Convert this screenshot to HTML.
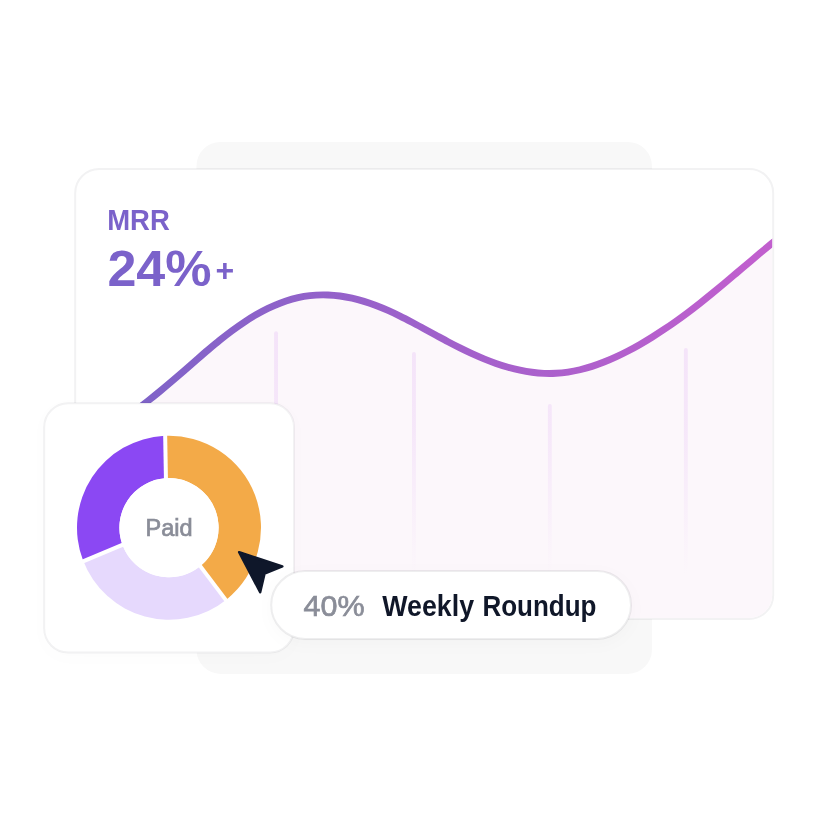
<!DOCTYPE html>
<html lang="en">
<head>
<meta charset="utf-8">
<title>MRR growth</title>
<style>
html,body{margin:0;padding:0;background:#fff;}
body{width:816px;height:816px;overflow:hidden;position:relative;font-family:"Liberation Sans",sans-serif;}
svg{position:absolute;left:0;top:0;display:block;}
text{font-family:"Liberation Sans",sans-serif;opacity:0.999;}
</style>
</head>
<body>
<svg width="816" height="816" viewBox="0 0 816 816">
  <defs>
    <linearGradient id="lg" gradientUnits="userSpaceOnUse" x1="140" y1="0" x2="775" y2="0">
      <stop offset="0" stop-color="#7f63c8"/>
      <stop offset="0.5" stop-color="#a261cb"/>
      <stop offset="1" stop-color="#c25fce"/>
    </linearGradient>
    <linearGradient id="fg" gradientUnits="userSpaceOnUse" x1="0" y1="295" x2="0" y2="620">
      <stop offset="0" stop-color="#fcf7fb"/>
      <stop offset="1" stop-color="#fcf7fb"/>
    </linearGradient>
    <linearGradient id="gl" gradientUnits="userSpaceOnUse" x1="0" y1="330" x2="0" y2="575">
      <stop offset="0" stop-color="#f4e3f9"/>
      <stop offset="0.4" stop-color="#f4e3f9" stop-opacity="0.8"/>
      <stop offset="1" stop-color="#f4e3f9" stop-opacity="0"/>
    </linearGradient>
    <clipPath id="cardclip"><rect x="76.2" y="169.9" width="696" height="448" rx="23" ry="23"/></clipPath>
    <filter id="sh" x="-10%" y="-30%" width="120%" height="170%">
      <feDropShadow dx="0" dy="4" stdDeviation="8" flood-color="#101828" flood-opacity="0.025"/>
    </filter>
    <filter id="sh2" x="-10%" y="-10%" width="120%" height="125%">
      <feDropShadow dx="0" dy="4" stdDeviation="8" flood-color="#101828" flood-opacity="0.012"/>
    </filter>
  </defs>
  <!-- back plate -->
  <rect x="196.5" y="141.9" width="455.4" height="532" rx="24" ry="24" fill="#f8f8f8"/>
  <!-- main card -->
  <rect x="75.2" y="168.9" width="698" height="450" rx="24" ry="24" fill="#ffffff" stroke="#1a1a22" stroke-opacity="0.055" stroke-width="2"/>
  <g clip-path="url(#cardclip)">
    <path d="M76.00 444.46 C78.00 443.62 84.00 441.29 88.00 439.44 C92.00 437.59 96.00 435.56 100.00 433.38 C104.00 431.21 108.00 428.86 112.00 426.39 C116.00 423.92 120.00 421.30 124.00 418.57 C128.00 415.85 132.00 412.99 136.00 410.04 C140.00 407.09 144.00 404.02 148.00 400.89 C152.00 397.75 156.00 394.51 160.00 391.23 C164.00 387.94 168.00 384.57 172.00 381.17 C176.00 377.77 180.00 374.30 184.00 370.83 C188.00 367.36 192.00 363.82 196.00 360.35 C200.00 356.88 204.00 353.39 208.00 350.00 C212.00 346.62 216.00 343.25 220.00 340.04 C224.00 336.82 228.00 333.67 232.00 330.71 C236.00 327.75 240.00 324.91 244.00 322.26 C248.00 319.61 252.00 317.11 256.00 314.80 C260.00 312.49 264.00 310.35 268.00 308.41 C272.00 306.47 276.00 304.71 280.00 303.17 C284.00 301.62 288.00 300.27 292.00 299.15 C296.00 298.03 300.00 297.13 304.00 296.45 C308.00 295.77 312.00 295.32 316.00 295.07 C320.00 294.83 324.00 294.80 328.00 294.96 C332.00 295.11 336.00 295.48 340.00 296.02 C344.00 296.55 348.00 297.29 352.00 298.17 C356.00 299.06 360.00 300.13 364.00 301.35 C368.00 302.56 372.00 303.95 376.00 305.46 C380.00 306.98 384.00 308.66 388.00 310.43 C392.00 312.20 396.00 314.12 400.00 316.08 C404.00 318.05 408.00 320.14 412.00 322.24 C416.00 324.34 420.00 326.53 424.00 328.70 C428.00 330.87 432.00 333.09 436.00 335.26 C440.00 337.43 444.00 339.63 448.00 341.74 C452.00 343.85 456.00 345.94 460.00 347.93 C464.00 349.92 468.00 351.85 472.00 353.67 C476.00 355.49 480.00 357.24 484.00 358.87 C488.00 360.49 492.00 362.02 496.00 363.42 C500.00 364.81 504.00 366.10 508.00 367.23 C512.00 368.37 516.00 369.38 520.00 370.22 C524.00 371.07 528.00 371.77 532.00 372.29 C536.00 372.82 540.00 373.18 544.00 373.35 C548.00 373.52 552.00 373.52 556.00 373.31 C560.00 373.10 564.00 372.69 568.00 372.10 C572.00 371.50 576.00 370.71 580.00 369.76 C584.00 368.80 588.00 367.67 592.00 366.38 C596.00 365.10 600.00 363.65 604.00 362.07 C608.00 360.49 612.00 358.76 616.00 356.91 C620.00 355.07 624.00 353.08 628.00 351.00 C632.00 348.92 636.00 346.72 640.00 344.42 C644.00 342.13 648.00 339.73 652.00 337.24 C656.00 334.76 660.00 332.17 664.00 329.49 C668.00 326.82 672.00 324.05 676.00 321.21 C680.00 318.36 684.00 315.43 688.00 312.43 C692.00 309.42 696.00 306.33 700.00 303.18 C704.00 300.03 708.00 296.80 712.00 293.53 C716.00 290.27 720.00 286.94 724.00 283.61 C728.00 280.27 732.00 276.88 736.00 273.50 C740.00 270.12 744.00 266.72 748.00 263.34 C752.00 259.96 756.00 256.56 760.00 253.22 C764.00 249.87 768.00 246.54 772.00 243.26 C776.00 239.99 782.00 235.20 784.00 233.58 L796 640 L76 640 Z" fill="url(#fg)"/>
    <g stroke="url(#gl)" stroke-width="3.9" stroke-linecap="round" fill="none">
      <path d="M276.05 333.3 V600"/>
      <path d="M413.97 353.9 V600"/>
      <path d="M549.85 405.9 V600"/>
      <path d="M685.85 349.9 V600"/>
    </g>
    <path d="M76.00 444.46 C78.00 443.62 84.00 441.29 88.00 439.44 C92.00 437.59 96.00 435.56 100.00 433.38 C104.00 431.21 108.00 428.86 112.00 426.39 C116.00 423.92 120.00 421.30 124.00 418.57 C128.00 415.85 132.00 412.99 136.00 410.04 C140.00 407.09 144.00 404.02 148.00 400.89 C152.00 397.75 156.00 394.51 160.00 391.23 C164.00 387.94 168.00 384.57 172.00 381.17 C176.00 377.77 180.00 374.30 184.00 370.83 C188.00 367.36 192.00 363.82 196.00 360.35 C200.00 356.88 204.00 353.39 208.00 350.00 C212.00 346.62 216.00 343.25 220.00 340.04 C224.00 336.82 228.00 333.67 232.00 330.71 C236.00 327.75 240.00 324.91 244.00 322.26 C248.00 319.61 252.00 317.11 256.00 314.80 C260.00 312.49 264.00 310.35 268.00 308.41 C272.00 306.47 276.00 304.71 280.00 303.17 C284.00 301.62 288.00 300.27 292.00 299.15 C296.00 298.03 300.00 297.13 304.00 296.45 C308.00 295.77 312.00 295.32 316.00 295.07 C320.00 294.83 324.00 294.80 328.00 294.96 C332.00 295.11 336.00 295.48 340.00 296.02 C344.00 296.55 348.00 297.29 352.00 298.17 C356.00 299.06 360.00 300.13 364.00 301.35 C368.00 302.56 372.00 303.95 376.00 305.46 C380.00 306.98 384.00 308.66 388.00 310.43 C392.00 312.20 396.00 314.12 400.00 316.08 C404.00 318.05 408.00 320.14 412.00 322.24 C416.00 324.34 420.00 326.53 424.00 328.70 C428.00 330.87 432.00 333.09 436.00 335.26 C440.00 337.43 444.00 339.63 448.00 341.74 C452.00 343.85 456.00 345.94 460.00 347.93 C464.00 349.92 468.00 351.85 472.00 353.67 C476.00 355.49 480.00 357.24 484.00 358.87 C488.00 360.49 492.00 362.02 496.00 363.42 C500.00 364.81 504.00 366.10 508.00 367.23 C512.00 368.37 516.00 369.38 520.00 370.22 C524.00 371.07 528.00 371.77 532.00 372.29 C536.00 372.82 540.00 373.18 544.00 373.35 C548.00 373.52 552.00 373.52 556.00 373.31 C560.00 373.10 564.00 372.69 568.00 372.10 C572.00 371.50 576.00 370.71 580.00 369.76 C584.00 368.80 588.00 367.67 592.00 366.38 C596.00 365.10 600.00 363.65 604.00 362.07 C608.00 360.49 612.00 358.76 616.00 356.91 C620.00 355.07 624.00 353.08 628.00 351.00 C632.00 348.92 636.00 346.72 640.00 344.42 C644.00 342.13 648.00 339.73 652.00 337.24 C656.00 334.76 660.00 332.17 664.00 329.49 C668.00 326.82 672.00 324.05 676.00 321.21 C680.00 318.36 684.00 315.43 688.00 312.43 C692.00 309.42 696.00 306.33 700.00 303.18 C704.00 300.03 708.00 296.80 712.00 293.53 C716.00 290.27 720.00 286.94 724.00 283.61 C728.00 280.27 732.00 276.88 736.00 273.50 C740.00 270.12 744.00 266.72 748.00 263.34 C752.00 259.96 756.00 256.56 760.00 253.22 C764.00 249.87 768.00 246.54 772.00 243.26 C776.00 239.99 782.00 235.20 784.00 233.58" fill="none" stroke="url(#lg)" stroke-width="6.9" stroke-linecap="round" stroke-linejoin="round"/>
  </g>
  <text x="107.2" y="230" font-size="29.2" font-weight="700" fill="#7b62ca" textLength="62.6" lengthAdjust="spacingAndGlyphs">MRR</text>
  <text x="107.4" y="286.2" font-size="50" font-weight="700" fill="#7b62ca" textLength="104.2" lengthAdjust="spacingAndGlyphs">24%</text>
  <text x="215.4" y="280.5" font-size="32" font-weight="700" fill="#7b62ca">+</text>

  <!-- donut card -->
  <rect x="44.2" y="403.2" width="249.8" height="249.3" rx="24" ry="24" fill="#ffffff" filter="url(#sh2)"/>
  <rect x="44.2" y="403.2" width="249.8" height="249.3" rx="24" ry="24" fill="#ffffff" stroke="#1a1a22" stroke-opacity="0.055" stroke-width="2"/>
  <path d="M164.51 435.81 A92 92 0 0 1 226.65 599.40 L200.08 566.36 A49.6 49.6 0 0 0 166.58 478.16 Z" fill="#f3aa48"/>
  <path d="M226.65 599.40 A92 92 0 0 1 83.00 560.37 L122.63 545.31 A49.6 49.6 0 0 0 200.08 566.36 Z" fill="#e6d9fd"/>
  <path d="M83.00 560.37 A92 92 0 0 1 164.51 435.81 L166.58 478.16 A49.6 49.6 0 0 0 122.63 545.31 Z" fill="#8b48f3"/>
  <g stroke="#ffffff" stroke-width="4" fill="none">
    <path d="M165.07 430 L166.04 485"/>
    <path d="M194.6 558.6 L231.6 607.6"/>
    <path d="M74.1 565.2 L131.3 541.1"/>
  </g>
  <circle cx="169.0" cy="527.7" r="49.6" fill="#fff"/>
  <text x="169" y="535.8" font-size="23.5" fill="#8a8d98" stroke="#8a8d98" stroke-width="0.7" text-anchor="middle">Paid</text>

  <!-- pill -->
  <rect x="271.2" y="571.1" width="359.8" height="67.8" rx="33.9" ry="33.9" fill="#ffffff" filter="url(#sh)"/>
  <rect x="271.2" y="571.1" width="359.8" height="67.8" rx="33.9" ry="33.9" fill="#ffffff" stroke="#1a1a22" stroke-opacity="0.075" stroke-width="2"/>
  <text x="303.6" y="615.5" font-size="29.3" fill="#8a8d98" stroke="#8a8d98" stroke-width="0.7" textLength="61" lengthAdjust="spacingAndGlyphs">40%</text>
  <text y="615.5" font-size="29" font-weight="700" fill="#101729"><tspan x="382.3" textLength="91.8" lengthAdjust="spacingAndGlyphs">Weekly</tspan> <tspan x="482.4" textLength="114" lengthAdjust="spacingAndGlyphs">Roundup</tspan></text>

  <!-- cursor -->
  <path d="M239.15 552.2 L282.35 566.37 L264.55 573.5 L260.17 592.16 Z" fill="#0f172a" stroke="#0f172a" stroke-width="2.5" stroke-linejoin="round"/>
</svg>
</body>
</html>
